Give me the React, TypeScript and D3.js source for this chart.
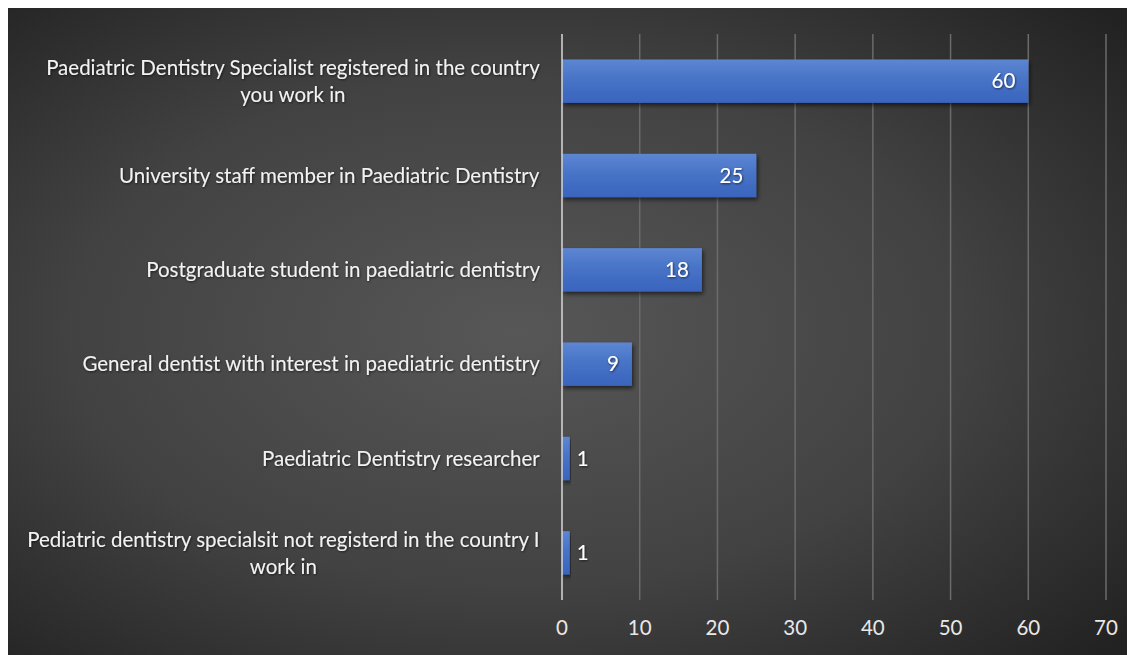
import React from 'react'
import * as d3 from 'd3'

// categories top to bottom, as they read on the chart
const categories = [
    'Paediatric Dentistry Specialist registered in the country you work in',
    'University staff member in Paediatric Dentistry',
    'Postgraduate student in paediatric dentistry',
    'General dentist with interest in paediatric dentistry',
    'Paediatric Dentistry researcher',
    'Pediatric dentistry specialsit not registerd in the country I work in',
]
const counts = [60, 25, 18, 9, 1, 1]
const xTicks = [0, 10, 20, 30, 40, 50, 60, 70]

const width = 1127,
    height = 647
const margin = { top: 26, right: 29, bottom: 55, left: 554 }
const FONT = 'Lato, "Open Sans", sans-serif'
const FS = 20.5
const LABEL_MAX = 522

// split a label into lines that fit, measured with a canvas
const wrap = (text: string, maxW: number): string[] => {
    const ctx = document.createElement('canvas').getContext('2d')
    if (!ctx) return [text]
    ctx.font = `${FS}px ${FONT}`
    const words = text.split(' ')
    const lines: string[] = []
    let cur = ''
    words.forEach(w => {
        const test = cur ? cur + ' ' + w : w
        if (ctx.measureText(test).width > maxW && cur) {
            lines.push(cur)
            cur = w
        } else cur = test
    })
    if (cur) lines.push(cur)
    return lines
}

const App = () => {
    const x = d3.scaleLinear().domain([0, 70]).range([margin.left, width - margin.right])
    const y = d3.scaleBand().domain(categories).range([margin.top, height - margin.bottom]).paddingInner(0.54).paddingOuter(0.27)
    const x0 = x(0)
    const labelRight = margin.left - 22
    const lineH = 27

    return (
        <svg width={width} height={height} style={{ display: 'block' }} fontFamily={FONT}>
            <defs>
                <radialGradient id="bg" cx="0.45" cy="0.5" r="0.72">
                    <stop offset="0" stopColor="#575757" />
                    <stop offset="0.55" stopColor="#424242" />
                    <stop offset="1" stopColor="#222222" />
                </radialGradient>
                <linearGradient id="bar" x1="0" y1="0" x2="0" y2="1">
                    <stop offset="0" stopColor="#5d86d2" />
                    <stop offset="0.5" stopColor="#4672c6" />
                    <stop offset="1" stopColor="#3a64bd" />
                </linearGradient>
                <filter id="shadow" x="-10%" y="-20%" width="120%" height="160%">
                    <feDropShadow dx="1.5" dy="2.5" stdDeviation="2" floodColor="#000" floodOpacity="0.6" />
                </filter>
                <filter id="tshadow" x="-5%" y="-30%" width="110%" height="160%">
                    <feDropShadow dx="0.8" dy="1" stdDeviation="0.8" floodColor="#000" floodOpacity="0.6" />
                </filter>
            </defs>
            <rect width={width} height={height} fill="url(#bg)" />

            {/* vertical gridlines */}
            {xTicks.slice(1).map(t => (
                <line key={t} x1={x(t)} x2={x(t)} y1={margin.top} y2={height - margin.bottom} stroke="#6b6b6b" strokeWidth={1.5} />
            ))}

            {/* bars */}
            {categories.map((c, i) => (
                <rect key={c} x={x0} y={y(c)} width={x(counts[i]) - x0} height={y.bandwidth()} fill="url(#bar)" filter="url(#shadow)" />
            ))}

            {/* axis line */}
            <line x1={x0} x2={x0} y1={margin.top} y2={height - margin.bottom} stroke="#d9d9d9" strokeWidth={1.5} />

            {/* value labels */}
            {categories.map((c, i) => {
                const inside = x(counts[i]) - x0 > 30
                return (
                    <text key={c} x={inside ? x(counts[i]) - 13 : x(counts[i]) + 7} y={(y(c) ?? 0) + y.bandwidth() / 2} dy="0.35em"
                        textAnchor={inside ? 'end' : 'start'} fill="#ffffff" fontSize={FS} filter="url(#tshadow)">
                        {counts[i]}
                    </text>
                )
            })}

            {/* category labels */}
            {categories.map(c => {
                const lines = wrap(c, LABEL_MAX)
                const ctx = document.createElement('canvas').getContext('2d')
                if (ctx) ctx.font = `${FS}px ${FONT}`
                const w0 = ctx ? ctx.measureText(lines[0]).width : 0
                const cx = labelRight - w0 / 2
                const cy = (y(c) ?? 0) + y.bandwidth() / 2
                return (
                    <text key={c} fill="#f2f2f2" fontSize={FS} textAnchor="middle" filter="url(#tshadow)">
                        {lines.map((l, j) => (
                            <tspan key={j} x={cx} y={cy + (j - (lines.length - 1) / 2) * lineH} dy="0.35em">{l}</tspan>
                        ))}
                    </text>
                )
            })}

            {/* x tick labels */}
            {xTicks.map(t => (
                <text key={t} x={x(t)} y={height - margin.bottom + 28} dy="0.35em" textAnchor="middle" fill="#e8e8e8" fontSize={FS}>
                    {t}
                </text>
            ))}
        </svg>
    )
}

export default App
